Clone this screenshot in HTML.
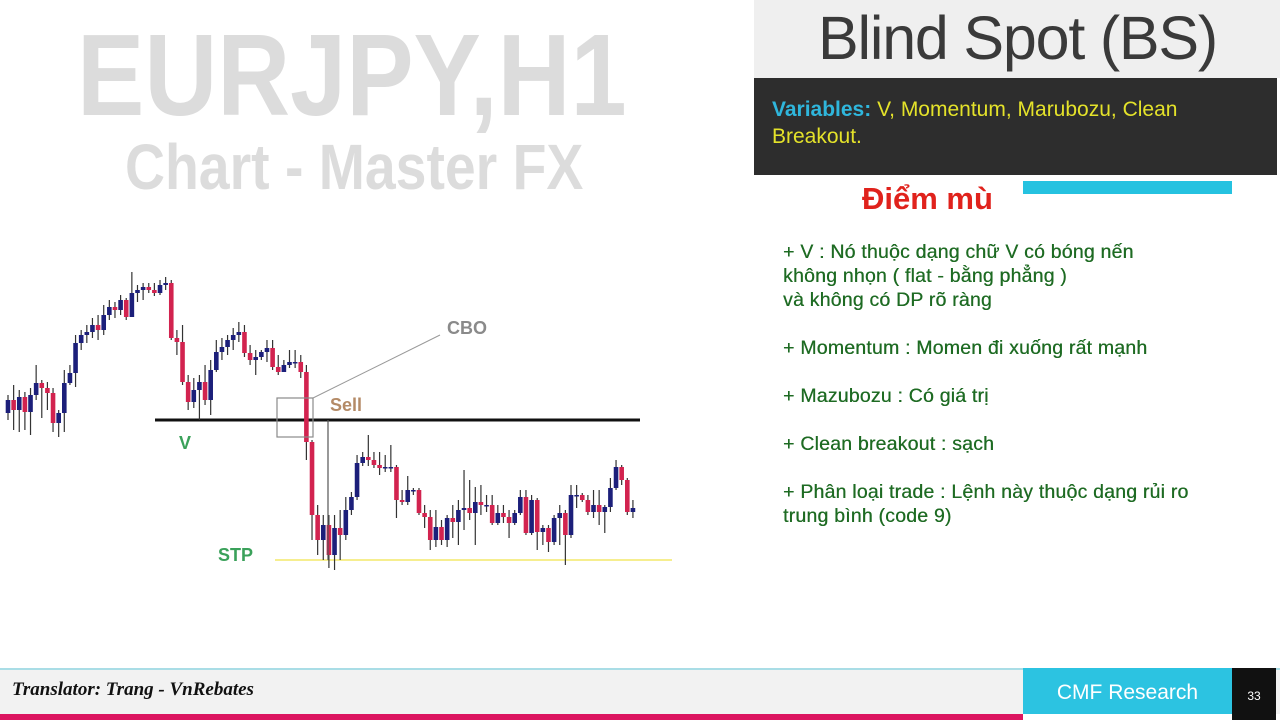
<!DOCTYPE html>
<html><head><meta charset="utf-8">
<style>
html,body{margin:0;padding:0;width:1280px;height:720px;overflow:hidden;background:#fff;font-family:"Liberation Sans",sans-serif;}
.abs{position:absolute;}
</style></head>
<body>
<div style="position:relative;width:1280px;height:720px;">

<div class="abs" style="left:77px;top:8px;font-weight:bold;font-size:116px;color:#dcdcdc;transform:scaleX(0.87);transform-origin:0 0;white-space:nowrap;">EURJPY,H1</div>
<div class="abs" style="left:125px;top:130px;font-weight:bold;font-size:64px;color:#dcdcdc;transform:scaleX(0.865);transform-origin:0 0;white-space:nowrap;">Chart - Master FX</div>

<svg class="abs" style="left:0;top:0" width="760" height="660" id="chart"></svg>

<div class="abs" style="left:754px;top:0;width:526px;height:78px;background:#efefef;"></div>
<div class="abs" style="left:818px;top:3px;font-size:61px;color:#3a3a3a;letter-spacing:-1.2px;white-space:nowrap;">Blind Spot (BS)</div>
<div class="abs" style="left:754px;top:78px;width:523px;height:97px;background:#2d2d2d;"></div>
<div class="abs" style="left:772px;top:96px;width:445px;font-size:21px;line-height:27px;color:#e4e22a;"><span style="color:#2fb6dc;font-weight:bold;">Variables:</span> V, Momentum, Marubozu, Clean Breakout.</div>
<div class="abs" style="left:1023px;top:181px;width:209px;height:13px;background:#25c2e0;"></div>
<div class="abs" style="left:862px;top:181px;font-size:31px;font-weight:bold;color:#e0221c;font-family:'Liberation Sans','Noto Sans CJK SC',sans-serif;">Điểm mù</div>

<div class="abs" style="left:783px;top:240px;width:490px;font-size:19.5px;line-height:24px;color:#1e6b23;letter-spacing:0.2px;font-family:'Liberation Sans','Noto Sans CJK SC',sans-serif;text-shadow:0.3px 0 0 #1e6b23;">
+ V : Nó thuộc dạng chữ V có bóng nến<br>không nhọn ( flat - bằng phẳng )<br>và không có DP rõ ràng<br><br>+ Momentum : Momen đi xuống rất mạnh<br><br>+ Mazubozu : Có giá trị<br><br>+ Clean breakout : sạch<br><br>+ Phân loại trade : Lệnh này thuộc dạng rủi ro<br>trung bình (code 9)
</div>

<div class="abs" style="left:0;top:668px;width:1280px;height:46px;background:#f2f2f2;border-top:2px solid #a9dde6;box-sizing:border-box;"></div>
<div class="abs" style="left:0;top:714px;width:1023px;height:6px;background:#dc1560;"></div>
<div class="abs" style="left:12px;top:679px;font-family:'Liberation Serif',serif;font-weight:bold;font-style:italic;font-size:19px;color:#111;">Translator: Trang - VnRebates</div>
<div class="abs" style="left:1023px;top:668px;width:209px;height:46px;background:#2cc3e1;color:#fff;font-size:21px;line-height:50px;text-align:center;">CMF Research</div>
<div class="abs" style="left:1232px;top:668px;width:44px;height:52px;background:#111;color:#fff;font-size:12px;line-height:56px;text-align:center;">33</div>
</div>

<script>
const firstOpen = 187;
const closes = [200,190,203,188,205,217,212,207,177,187,217,227,257,265,268,275,270,285,293,290,300,283,307,310,313,310,307,315,317,262,258,218,198,210,218,200,230,248,253,260,265,268,247,240,243,248,252,233,228,235,238,238,228,158,85,60,75,45,72,65,90,103,137,143,140,135,132,133,133,100,98,110,110,87,83,60,73,60,82,78,90,92,87,98,95,95,77,87,83,77,87,103,67,100,68,72,58,82,87,65,105,105,100,88,95,88,93,112,133,120,88,92];
const highs = [205,215,210,208,212,235,220,218,212,190,230,235,265,270,275,282,285,295,300,298,305,302,328,315,317,317,317,320,323,320,270,275,225,222,225,235,240,260,262,265,272,278,275,255,250,250,260,260,245,240,250,250,245,235,160,95,85,85,85,90,103,108,145,148,165,148,148,145,155,135,110,124,112,112,95,90,90,80,85,95,100,130,120,113,115,105,105,95,95,90,90,110,110,105,102,75,75,85,95,90,115,115,107,105,110,110,95,122,140,135,122,100];
const lows = [180,170,168,170,165,200,182,190,168,163,168,215,213,250,257,262,260,265,280,282,285,280,283,298,300,307,304,305,310,260,245,215,190,192,180,195,185,228,240,245,250,258,243,235,225,240,238,230,225,228,232,232,222,140,60,45,40,32,30,40,60,85,100,134,134,132,125,128,128,82,95,95,105,85,72,50,53,55,53,62,55,70,80,55,85,88,75,75,77,62,75,85,65,65,50,55,48,55,55,35,62,92,98,85,82,75,67,88,110,115,85,82];
const resistanceLevel = 180;
const stopLevel = 40;

const svg = document.getElementById('chart');
const NS = 'http://www.w3.org/2000/svg';
const xScale = i => 8 + i * 5.63;
const yScale = v => 600 - v;
function mk(tag, attrs){const e=document.createElementNS(NS,tag);for(const k in attrs)e.setAttribute(k,attrs[k]);svg.appendChild(e);return e;}

let rl = mk('line',{x1:155,x2:640,y1:yScale(resistanceLevel),y2:yScale(resistanceLevel),stroke:'#111','stroke-width':3});


let sl = mk('line',{x1:275,x2:672,y1:yScale(stopLevel),y2:yScale(stopLevel),stroke:'#f3e86a','stroke-width':1.5});



for(let i=0;i<closes.length;i++){
  const o = i===0 ? firstOpen : closes[i-1];
  const c = closes[i];
  const x = xScale(i);
  const col = c >= o ? '#1c1f7a' : '#d2234f';
  const w = mk('line',{x1:x,x2:x,y1:yScale(highs[i]),y2:yScale(lows[i]),stroke:'#333','stroke-width':1.2});
  
  
  const top = yScale(Math.max(o,c)), bot = yScale(Math.min(o,c));
  const b = mk('rect',{x:x-2.3,y:top,width:4.6,height:Math.max(1.5,bot-top),fill:col});
  
  
}

let bx = mk('rect',{x:277,y:398,width:36,height:39,fill:'none',stroke:'#8a8a8a','stroke-width':1.2});


let cl = mk('line',{x1:313,y1:398,x2:440,y2:335,stroke:'#999','stroke-width':1});


let vl = mk('line',{x1:328,y1:yScale(resistanceLevel),x2:328,y2:yScale(stopLevel),stroke:'#555','stroke-width':1.2});


function txt(s,x,y,col,name){const t=mk('text',{x:x,y:y,fill:col,'font-family':'Liberation Sans, sans-serif','font-weight':'bold','font-size':18});t.textContent=s;}
txt('CBO',447,334,'#8a8a8a','cbo-label');
txt('Sell',330,411,'#b48a66','sell-label');
txt('V',179,449,'#3aa15a','v-label');
txt('STP',218,561,'#3aa15a','stp-label');
</script>
</body></html>
